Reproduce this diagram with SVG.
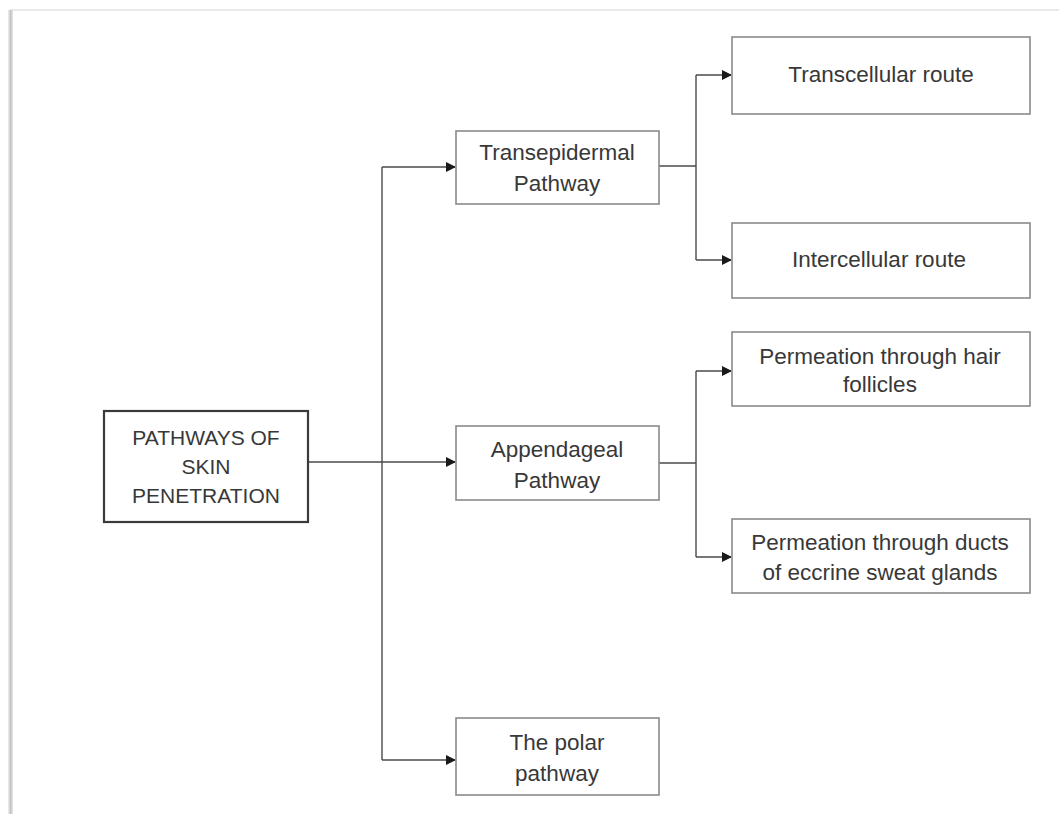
<svg xmlns="http://www.w3.org/2000/svg" width="1059" height="814" viewBox="0 0 1059 814">
<defs>
<marker id="arr" markerWidth="10" markerHeight="10" refX="9" refY="5" orient="auto" markerUnits="userSpaceOnUse">
<path d="M0,0 L10,5 L0,10 Z" fill="#1a1a1a"/>
</marker>
<linearGradient id="shadow" x1="0" y1="0" x2="1" y2="0">
<stop offset="0" stop-color="#f2f2f2"/>
<stop offset="0.5" stop-color="#c4c4c4"/>
<stop offset="1" stop-color="#e8e8e8"/>
</linearGradient>
</defs>
<style>
.node rect{fill:#ffffff;stroke:#8a8a8a;stroke-width:1.6}
#main rect{stroke:#3a3a3a;stroke-width:2.2}
text{font-family:"Liberation Sans",Arial,sans-serif;font-size:22.5px;fill:#383838;text-anchor:middle}
#main text{font-size:21px}
#connectors path{fill:none;stroke:#4a4a4a;stroke-width:1.4}
</style>
<rect width="1059" height="814" fill="#ffffff"/>
<g id="frame">
<rect x="10" y="9" width="1049" height="2" fill="#e9e9e9"/>
<rect x="8" y="10" width="5" height="804" fill="url(#shadow)"/>
</g>
<g id="connectors">
<path d="M308,462 H455" marker-end="url(#arr)"/>
<path d="M382,167 V760"/>
<path d="M382,167 H455" marker-end="url(#arr)"/>
<path d="M382,760 H455" marker-end="url(#arr)"/>
<path d="M659,166 H696"/>
<path d="M696,75 V260"/>
<path d="M696,75 H731" marker-end="url(#arr)"/>
<path d="M696,260 H731" marker-end="url(#arr)"/>
<path d="M659,463 H696"/>
<path d="M696,371 V557"/>
<path d="M696,371 H731" marker-end="url(#arr)"/>
<path d="M696,557 H731" marker-end="url(#arr)"/>
</g>
<g id="main" class="node">
<rect x="104" y="411" width="204" height="111"/>
<text x="206" y="445">PATHWAYS OF</text>
<text x="206" y="474">SKIN</text>
<text x="206" y="503">PENETRATION</text>
</g>
<g id="transepidermal" class="node">
<rect x="456" y="131" width="203" height="73"/>
<text x="557" y="160">Transepidermal</text>
<text x="557" y="191">Pathway</text>
</g>
<g id="appendageal" class="node">
<rect x="456" y="426" width="203" height="74"/>
<text x="557" y="457">Appendageal</text>
<text x="557" y="488">Pathway</text>
</g>
<g id="polar" class="node">
<rect x="456" y="718" width="203" height="77"/>
<text x="557" y="750">The polar</text>
<text x="557" y="781">pathway</text>
</g>
<g id="transcellular" class="node">
<rect x="732" y="37" width="298" height="77"/>
<text x="881" y="82">Transcellular route</text>
</g>
<g id="intercellular" class="node">
<rect x="732" y="223" width="298" height="75"/>
<text x="879" y="267">Intercellular route</text>
</g>
<g id="hair" class="node">
<rect x="732" y="332" width="298" height="74"/>
<text x="880" y="364">Permeation through hair</text>
<text x="880" y="392">follicles</text>
</g>
<g id="ducts" class="node">
<rect x="732" y="519" width="298" height="74"/>
<text x="880" y="550">Permeation through ducts</text>
<text x="880" y="580">of eccrine sweat glands</text>
</g>
</svg>
